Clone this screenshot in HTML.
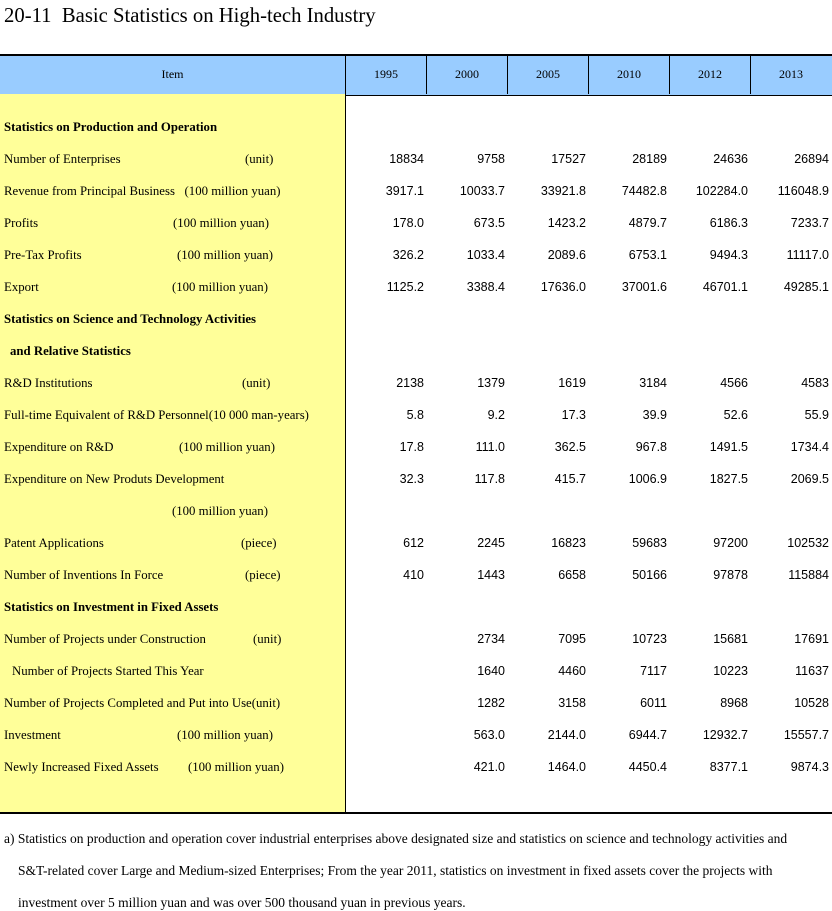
<!DOCTYPE html>
<html><head><meta charset="utf-8"><style>
body{margin:0;width:832px;height:911px;background:#fff;position:relative;overflow:hidden;font-family:"Liberation Serif",serif;font-size:12.8px;color:#000}
.a{position:absolute;line-height:16px;white-space:nowrap}
.f{font-size:13.5px}
.h{font-size:12px}
.n{position:absolute;line-height:16px;font-family:"Liberation Sans",sans-serif;font-size:12.5px;text-align:right;white-space:nowrap}
.b{font-weight:bold}
</style></head><body>
<div class="a" style="left:4px;top:3px;font-size:20.7px;line-height:26px">20-11&nbsp; Basic Statistics on High-tech Industry</div>
<div style="position:absolute;left:0;top:54px;width:832px;height:39px;background:#99ccff;border-top:2px solid #000;border-bottom:1px solid #000"></div>
<div style="position:absolute;left:0;top:94px;width:345px;height:719px;background:#ffff99"></div>
<div style="position:absolute;left:345px;top:56px;width:1px;height:757px;background:#000"></div>
<div style="position:absolute;left:426px;top:56px;width:1px;height:38px;background:#000"></div>
<div style="position:absolute;left:507px;top:56px;width:1px;height:38px;background:#000"></div>
<div style="position:absolute;left:588px;top:56px;width:1px;height:38px;background:#000"></div>
<div style="position:absolute;left:669px;top:56px;width:1px;height:38px;background:#000"></div>
<div style="position:absolute;left:750px;top:56px;width:1px;height:38px;background:#000"></div>
<div style="position:absolute;left:0;top:812px;width:832px;height:2px;background:#000"></div>
<div class="a h" style="left:0;width:345px;text-align:center;top:66px">Item</div>
<div class="a h" style="left:346px;width:80px;text-align:center;top:66px">1995</div>
<div class="a h" style="left:427px;width:80px;text-align:center;top:66px">2000</div>
<div class="a h" style="left:508px;width:80px;text-align:center;top:66px">2005</div>
<div class="a h" style="left:589px;width:80px;text-align:center;top:66px">2010</div>
<div class="a h" style="left:670px;width:80px;text-align:center;top:66px">2012</div>
<div class="a h" style="left:751px;width:80px;text-align:center;top:66px">2013</div>

<div class="a b" style="left:4px;top:119px">Statistics on Production and Operation</div>
<div class="a" style="left:4px;top:151px">Number of Enterprises</div><div class="a" style="left:245px;top:151px">(unit)</div>
<div class="a" style="left:4px;top:183px">Revenue from Principal Business&nbsp;&nbsp; (100 million yuan)</div>
<div class="a" style="left:4px;top:215px">Profits</div><div class="a" style="left:173px;top:215px">(100 million yuan)</div>
<div class="a" style="left:4px;top:247px">Pre-Tax Profits</div><div class="a" style="left:177px;top:247px">(100 million yuan)</div>
<div class="a" style="left:4px;top:279px">Export</div><div class="a" style="left:172px;top:279px">(100 million yuan)</div>
<div class="a b" style="left:4px;top:311px">Statistics on Science and Technology Activities</div>
<div class="a b" style="left:10px;top:343px">and Relative Statistics</div>
<div class="a" style="left:4px;top:375px">R&amp;D Institutions</div><div class="a" style="left:242px;top:375px">(unit)</div>
<div class="a" style="left:4px;top:407px">Full-time Equivalent of R&amp;D Personnel(10 000 man-years)</div>
<div class="a" style="left:4px;top:439px">Expenditure on R&amp;D</div><div class="a" style="left:179px;top:439px">(100 million yuan)</div>
<div class="a" style="left:4px;top:471px">Expenditure on New Produts Development</div>
<div class="a" style="left:172px;top:503px">(100 million yuan)</div>
<div class="a" style="left:4px;top:535px">Patent Applications</div><div class="a" style="left:241px;top:535px">(piece)</div>
<div class="a" style="left:4px;top:567px">Number of Inventions In Force</div><div class="a" style="left:245px;top:567px">(piece)</div>
<div class="a b" style="left:4px;top:599px">Statistics on Investment in Fixed Assets</div>
<div class="a" style="left:4px;top:631px">Number of Projects under Construction</div><div class="a" style="left:253px;top:631px">(unit)</div>
<div class="a" style="left:12px;top:663px">Number of Projects Started This Year</div>
<div class="a" style="left:4px;top:695px">Number of Projects Completed and Put into Use(unit)</div>
<div class="a" style="left:4px;top:727px">Investment</div><div class="a" style="left:177px;top:727px">(100 million yuan)</div>
<div class="a" style="left:4px;top:759px">Newly Increased Fixed Assets</div><div class="a" style="left:188px;top:759px">(100 million yuan)</div>

<div class="n" style="left:344px;width:80px;top:151px">18834</div><div class="n" style="left:425px;width:80px;top:151px">9758</div><div class="n" style="left:506px;width:80px;top:151px">17527</div><div class="n" style="left:587px;width:80px;top:151px">28189</div><div class="n" style="left:668px;width:80px;top:151px">24636</div><div class="n" style="left:749px;width:80px;top:151px">26894</div>
<div class="n" style="left:344px;width:80px;top:183px">3917.1</div><div class="n" style="left:425px;width:80px;top:183px">10033.7</div><div class="n" style="left:506px;width:80px;top:183px">33921.8</div><div class="n" style="left:587px;width:80px;top:183px">74482.8</div><div class="n" style="left:668px;width:80px;top:183px">102284.0</div><div class="n" style="left:749px;width:80px;top:183px">116048.9</div>
<div class="n" style="left:344px;width:80px;top:215px">178.0</div><div class="n" style="left:425px;width:80px;top:215px">673.5</div><div class="n" style="left:506px;width:80px;top:215px">1423.2</div><div class="n" style="left:587px;width:80px;top:215px">4879.7</div><div class="n" style="left:668px;width:80px;top:215px">6186.3</div><div class="n" style="left:749px;width:80px;top:215px">7233.7</div>
<div class="n" style="left:344px;width:80px;top:247px">326.2</div><div class="n" style="left:425px;width:80px;top:247px">1033.4</div><div class="n" style="left:506px;width:80px;top:247px">2089.6</div><div class="n" style="left:587px;width:80px;top:247px">6753.1</div><div class="n" style="left:668px;width:80px;top:247px">9494.3</div><div class="n" style="left:749px;width:80px;top:247px">11117.0</div>
<div class="n" style="left:344px;width:80px;top:279px">1125.2</div><div class="n" style="left:425px;width:80px;top:279px">3388.4</div><div class="n" style="left:506px;width:80px;top:279px">17636.0</div><div class="n" style="left:587px;width:80px;top:279px">37001.6</div><div class="n" style="left:668px;width:80px;top:279px">46701.1</div><div class="n" style="left:749px;width:80px;top:279px">49285.1</div>
<div class="n" style="left:344px;width:80px;top:375px">2138</div><div class="n" style="left:425px;width:80px;top:375px">1379</div><div class="n" style="left:506px;width:80px;top:375px">1619</div><div class="n" style="left:587px;width:80px;top:375px">3184</div><div class="n" style="left:668px;width:80px;top:375px">4566</div><div class="n" style="left:749px;width:80px;top:375px">4583</div>
<div class="n" style="left:344px;width:80px;top:407px">5.8</div><div class="n" style="left:425px;width:80px;top:407px">9.2</div><div class="n" style="left:506px;width:80px;top:407px">17.3</div><div class="n" style="left:587px;width:80px;top:407px">39.9</div><div class="n" style="left:668px;width:80px;top:407px">52.6</div><div class="n" style="left:749px;width:80px;top:407px">55.9</div>
<div class="n" style="left:344px;width:80px;top:439px">17.8</div><div class="n" style="left:425px;width:80px;top:439px">111.0</div><div class="n" style="left:506px;width:80px;top:439px">362.5</div><div class="n" style="left:587px;width:80px;top:439px">967.8</div><div class="n" style="left:668px;width:80px;top:439px">1491.5</div><div class="n" style="left:749px;width:80px;top:439px">1734.4</div>
<div class="n" style="left:344px;width:80px;top:471px">32.3</div><div class="n" style="left:425px;width:80px;top:471px">117.8</div><div class="n" style="left:506px;width:80px;top:471px">415.7</div><div class="n" style="left:587px;width:80px;top:471px">1006.9</div><div class="n" style="left:668px;width:80px;top:471px">1827.5</div><div class="n" style="left:749px;width:80px;top:471px">2069.5</div>
<div class="n" style="left:344px;width:80px;top:535px">612</div><div class="n" style="left:425px;width:80px;top:535px">2245</div><div class="n" style="left:506px;width:80px;top:535px">16823</div><div class="n" style="left:587px;width:80px;top:535px">59683</div><div class="n" style="left:668px;width:80px;top:535px">97200</div><div class="n" style="left:749px;width:80px;top:535px">102532</div>
<div class="n" style="left:344px;width:80px;top:567px">410</div><div class="n" style="left:425px;width:80px;top:567px">1443</div><div class="n" style="left:506px;width:80px;top:567px">6658</div><div class="n" style="left:587px;width:80px;top:567px">50166</div><div class="n" style="left:668px;width:80px;top:567px">97878</div><div class="n" style="left:749px;width:80px;top:567px">115884</div>
<div class="n" style="left:425px;width:80px;top:631px">2734</div><div class="n" style="left:506px;width:80px;top:631px">7095</div><div class="n" style="left:587px;width:80px;top:631px">10723</div><div class="n" style="left:668px;width:80px;top:631px">15681</div><div class="n" style="left:749px;width:80px;top:631px">17691</div>
<div class="n" style="left:425px;width:80px;top:663px">1640</div><div class="n" style="left:506px;width:80px;top:663px">4460</div><div class="n" style="left:587px;width:80px;top:663px">7117</div><div class="n" style="left:668px;width:80px;top:663px">10223</div><div class="n" style="left:749px;width:80px;top:663px">11637</div>
<div class="n" style="left:425px;width:80px;top:695px">1282</div><div class="n" style="left:506px;width:80px;top:695px">3158</div><div class="n" style="left:587px;width:80px;top:695px">6011</div><div class="n" style="left:668px;width:80px;top:695px">8968</div><div class="n" style="left:749px;width:80px;top:695px">10528</div>
<div class="n" style="left:425px;width:80px;top:727px">563.0</div><div class="n" style="left:506px;width:80px;top:727px">2144.0</div><div class="n" style="left:587px;width:80px;top:727px">6944.7</div><div class="n" style="left:668px;width:80px;top:727px">12932.7</div><div class="n" style="left:749px;width:80px;top:727px">15557.7</div>
<div class="n" style="left:425px;width:80px;top:759px">421.0</div><div class="n" style="left:506px;width:80px;top:759px">1464.0</div><div class="n" style="left:587px;width:80px;top:759px">4450.4</div><div class="n" style="left:668px;width:80px;top:759px">8377.1</div><div class="n" style="left:749px;width:80px;top:759px">9874.3</div>

<div class="a f" style="left:4px;top:831px">a) Statistics on production and operation cover industrial enterprises above designated size and statistics on science and technology activities and</div>
<div class="a f" style="left:18px;top:863px">S&amp;T-related cover Large and Medium-sized Enterprises; From the year 2011, statistics on investment in fixed assets cover the projects with</div>
<div class="a f" style="left:18px;top:895px">investment over 5 million yuan and was over 500 thousand yuan in previous years.</div>
</body></html>
